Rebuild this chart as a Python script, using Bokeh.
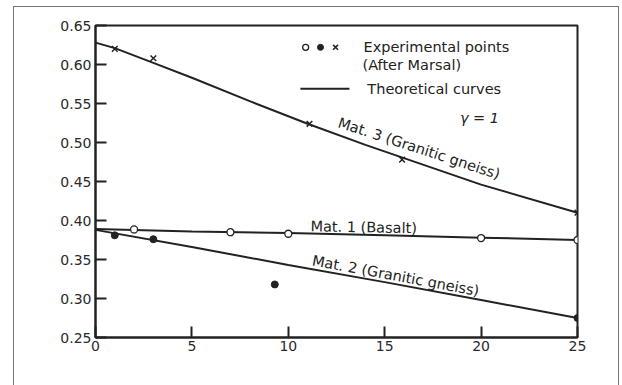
from bokeh.plotting import figure
from bokeh.models import Range1d, FixedTicker, PrintfTickFormatter, Label, InlineStyleSheet
from bokeh.embed import file_html
from bokeh.resources import INLINE

# ---- data ----
# theoretical curves (sigma in kg/cm2, void ratio e)
mat3_sigma = [0, 1, 3, 5, 8, 11, 14, 16, 20, 25]
mat3_e = [0.628, 0.621, 0.602, 0.583, 0.553, 0.524, 0.497, 0.480, 0.446, 0.410]
mat1_sigma = [0, 5, 10, 15, 20, 25]
mat1_e = [0.389, 0.386, 0.384, 0.381, 0.378, 0.375]
mat2_sigma = [0, 5, 10, 15, 20, 25]
mat2_e = [0.388, 0.366, 0.343, 0.321, 0.298, 0.275]

# experimental points (after Marsal)
exp3_sigma = [1, 3, 11.1, 15.9, 25]
exp3_e = [0.620, 0.608, 0.524, 0.478, 0.410]
exp1_sigma = [2, 7, 10, 20, 25]
exp1_e = [0.3885, 0.385, 0.383, 0.3775, 0.375]
exp2_sigma = [1, 3, 9.3, 25]
exp2_e = [0.381, 0.376, 0.318, 0.275]

x_ticks = [0, 5, 10, 15, 20, 25]
y_ticks = [0.25, 0.30, 0.35, 0.40, 0.45, 0.50, 0.55, 0.60, 0.65]

FONT = "DejaVu Sans"
INK = "#222222"

# outer picture border (scan frame) drawn with a stylesheet overlay
frame_css = InlineStyleSheet(css="""
:host::after {
  content: "";
  position: absolute;
  left: 13px; top: 6px; width: 606px; height: 385px;
  border-left: 1.5px solid #777; border-top: 1.5px solid #777; border-right: 1.5px solid #777;
  box-sizing: border-box;
  pointer-events: none;
}
""")

p = figure(width=622, height=385, output_backend="svg", toolbar_location=None,
           x_range=Range1d(0, 25), y_range=Range1d(0.25, 0.65),
           min_border_left=95, min_border_right=45, min_border_top=25, min_border_bottom=48,
           stylesheets=[frame_css])
p.background_fill_color = "white"
p.border_fill_color = "white"
p.grid.visible = False
p.outline_line_color = INK
p.outline_line_width = 2

for ax in (p.xaxis[0], p.yaxis[0]):
    ax.axis_line_color = INK
    ax.axis_line_width = 2
    ax.major_tick_in = 11
    ax.major_tick_out = 0
    ax.major_tick_line_color = INK
    ax.major_tick_line_width = 2
    ax.minor_tick_line_color = None
    ax.major_label_text_font = FONT
    ax.major_label_text_font_size = "14px"
    ax.major_label_text_color = "#2a2a2a"

p.xaxis.ticker = FixedTicker(ticks=x_ticks)
p.yaxis.ticker = FixedTicker(ticks=y_ticks)
p.yaxis.formatter = PrintfTickFormatter(format="%.2f")
p.xaxis.major_label_standoff = 3
p.yaxis.major_label_standoff = 4

# curves
for xs, ys in ((mat3_sigma, mat3_e), (mat1_sigma, mat1_e), (mat2_sigma, mat2_e)):
    p.line(xs, ys, line_color=INK, line_width=2)

# experimental points
p.scatter(exp3_sigma, exp3_e, marker="x", size=8, line_color=INK, line_width=1.5)
p.scatter(exp1_sigma, exp1_e, marker="circle", size=7, line_color=INK, line_width=1.3,
          fill_color="white")
p.scatter(exp2_sigma, exp2_e, marker="circle", size=7, line_color=INK, fill_color=INK)

# legend (drawn as in the original figure)
p.scatter([10.9], [0.622], marker="circle", size=6, line_color=INK, line_width=1.3, fill_color="white")
p.scatter([11.67], [0.622], marker="circle", size=6, line_color=INK, fill_color=INK)
p.scatter([12.45], [0.622], marker="x", size=7, line_color=INK, line_width=1.5)
p.line([10.63, 13.17], [0.569, 0.569], line_color=INK, line_width=2)

def lab(x, y, text, angle=0.0, size="14.5px", align="left", baseline="middle", units="data", style="normal"):
    p.add_layout(Label(x=x, y=y, text=text, angle=angle, angle_units="deg",
                       x_units=units, y_units=units,
                       text_font=FONT, text_font_size=size, text_color=INK,
                       text_align=align, text_baseline=baseline, text_font_style=style))

lab(13.9, 0.622, "Experimental points")
lab(13.85, 0.599, "(After Marsal)")
lab(14.1, 0.569, "Theoretical curves")
lab(18.9, 0.532, "γ = 1", style="italic")

lab(12.6, 0.526, "Mat. 3 (Granitic gneiss)", angle=-18, baseline="alphabetic")
lab(11.15, 0.3925, "Mat. 1 (Basalt)", angle=-1, baseline="alphabetic")
lab(11.25, 0.349, "Mat. 2 (Granitic gneiss)", angle=-10.5, baseline="alphabetic")

# axis titles (screen units relative to plot frame)
lab(-53, 254, "e", size="17px", align="center", units="screen")
lab(391, -35, "σ , kg/cm²", size="16px", align="center", units="screen")

open("out.html", "w").write(file_html(p, INLINE))
